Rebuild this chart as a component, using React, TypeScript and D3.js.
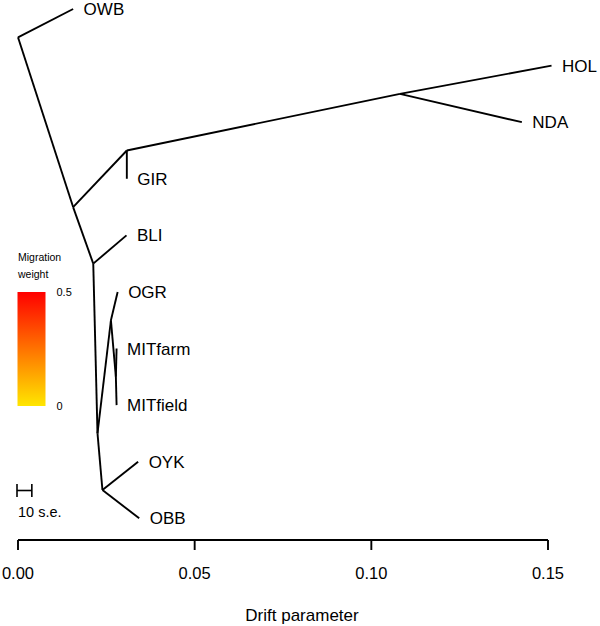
import React from "react";
import * as d3 from "d3";

// Tree nodes (drift parameter on x, layout position in tip units on y)
const nodeNames = ["root", "OWB", "A", "B", "GIR", "C", "HOL", "NDA", "D", "BLI", "E", "H", "OGR", "G", "MITfarm", "MITfield", "F", "OYK", "OBB"];
const nodeParents = [null, "root", "root", "A", "B", "B", "C", "C", "A", "D", "D", "E", "H", "H", "G", "G", "E", "F", "F"];
const nodeDrift = [0.0, 0.0156, 0.0156, 0.0308, 0.0308, 0.1081, 0.151, 0.1426, 0.0213, 0.0307, 0.0225, 0.0263, 0.0282, 0.0277, 0.0279, 0.0279, 0.0239, 0.034, 0.0343];
const nodeY = [0.5, 0, 3.5, 2.5, 3, 1.5, 1, 2, 4.5, 4, 7.5, 5.5, 5, 6.5, 6, 7, 8.5, 8, 9];
const tipNames = ["OWB", "HOL", "NDA", "GIR", "BLI", "OGR", "MITfarm", "MITfield", "OYK", "OBB"];

const axisTicks = [0, 0.05, 0.1, 0.15];
const axisTickLabels = ["0.00", "0.05", "0.10", "0.15"];
const legendValues = [0, 0.5];
const legendLabels = ["0", "0.5"];
const scaleBarDrift = 0.0042; // 10 s.e.

const W = 600;
const H = 626;
const FONT = "'Liberation Sans', Arial, Helvetica, sans-serif";

export default function App() {
  const x = d3.scaleLinear().domain([0, 0.15]).range([18, 548]);
  const y = d3.scaleLinear().domain([0, 9]).range([9, 518.3]);
  const wScale = d3.scaleLinear().domain([0, 0.5]).range([406, 292]);

  const idx = new Map(nodeNames.map((n, i) => [n, i]));
  const edges = nodeNames
    .map((n, i) => ({ i, p: nodeParents[i] }))
    .filter((e) => e.p !== null)
    .map((e) => {
      const pi = idx.get(e.p as string)!;
      return {
        x1: x(nodeDrift[pi]),
        y1: y(nodeY[pi]),
        x2: x(nodeDrift[e.i]),
        y2: y(nodeY[e.i]),
        key: nodeNames[e.i],
      };
    });

  const gradColors = d3.range(0, 1.0001, 0.1).map((t) => ({
    t,
    c: d3.interpolateRgb("#ffe600", "#ff0000")(t),
  }));

  const sbX0 = x(0) - 1;
  const sbX1 = x(scaleBarDrift) - 1;
  const sbY = 490.5;

  return (
    <svg
      width={W}
      height={H}
      style={{ position: "absolute", left: 0, top: 0, background: "#fff" }}
      fontFamily={FONT}
    >
      <defs>
        <linearGradient id="mig" x1="0" y1="1" x2="0" y2="0">
          {gradColors.map((g) => (
            <stop key={g.t} offset={g.t} stopColor={g.c} />
          ))}
        </linearGradient>
      </defs>
      <rect x={0} y={0} width={W} height={H} fill="#fff" />

      {/* tree edges */}
      <g stroke="#000" strokeWidth={1.9} strokeLinecap="butt">
        {edges.map((e) => (
          <line key={e.key} x1={e.x1} y1={e.y1} x2={e.x2} y2={e.y2} />
        ))}
      </g>

      {/* tip labels */}
      <g fontSize={17} fill="#000">
        {tipNames.map((t) => {
          const i = idx.get(t)!;
          return (
            <text key={t} x={x(nodeDrift[i]) + 10.5} y={y(nodeY[i])} dy="0.36em">
              {t}
            </text>
          );
        })}
      </g>

      {/* migration legend */}
      <g fontSize={10.5} fill="#000">
        <text x={18} y={257} dy="0.36em">Migration</text>
        <text x={18} y={274} dy="0.36em">weight</text>
      </g>
      <rect x={17.5} y={wScale(0.5)} width={28} height={wScale(0) - wScale(0.5)} fill="url(#mig)" />
      <g fontSize={11} fill="#000">
        {legendValues.map((v, i) => (
          <text key={v} x={56.5} y={wScale(v)} dy="0.36em">
            {legendLabels[i]}
          </text>
        ))}
      </g>

      {/* scale bar */}
      <g stroke="#000" strokeWidth={1.6}>
        <line x1={sbX0} x2={sbX1} y1={sbY} y2={sbY} />
        <line x1={sbX0} x2={sbX0} y1={sbY - 6.5} y2={sbY + 6.5} />
        <line x1={sbX1} x2={sbX1} y1={sbY - 6.5} y2={sbY + 6.5} />
      </g>
      <text x={18} y={512} dy="0.36em" fontSize={14.5} fill="#000">10 s.e.</text>

      {/* x axis */}
      <g stroke="#000" strokeWidth={1.9}>
        <line x1={x(0)} x2={x(0.15)} y1={540} y2={540} />
        {axisTicks.map((t) => (
          <line key={t} x1={x(t)} x2={x(t)} y1={540} y2={550} />
        ))}
      </g>
      <g fontSize={16.5} fill="#000" textAnchor="middle">
        {axisTicks.map((t, i) => (
          <text key={t} x={x(t)} y={573} dy="0.36em">
            {axisTickLabels[i]}
          </text>
        ))}
      </g>
      <text x={302} y={615} dy="0.36em" fontSize={17} textAnchor="middle" fill="#000">
        Drift parameter
      </text>
    </svg>
  );
}
